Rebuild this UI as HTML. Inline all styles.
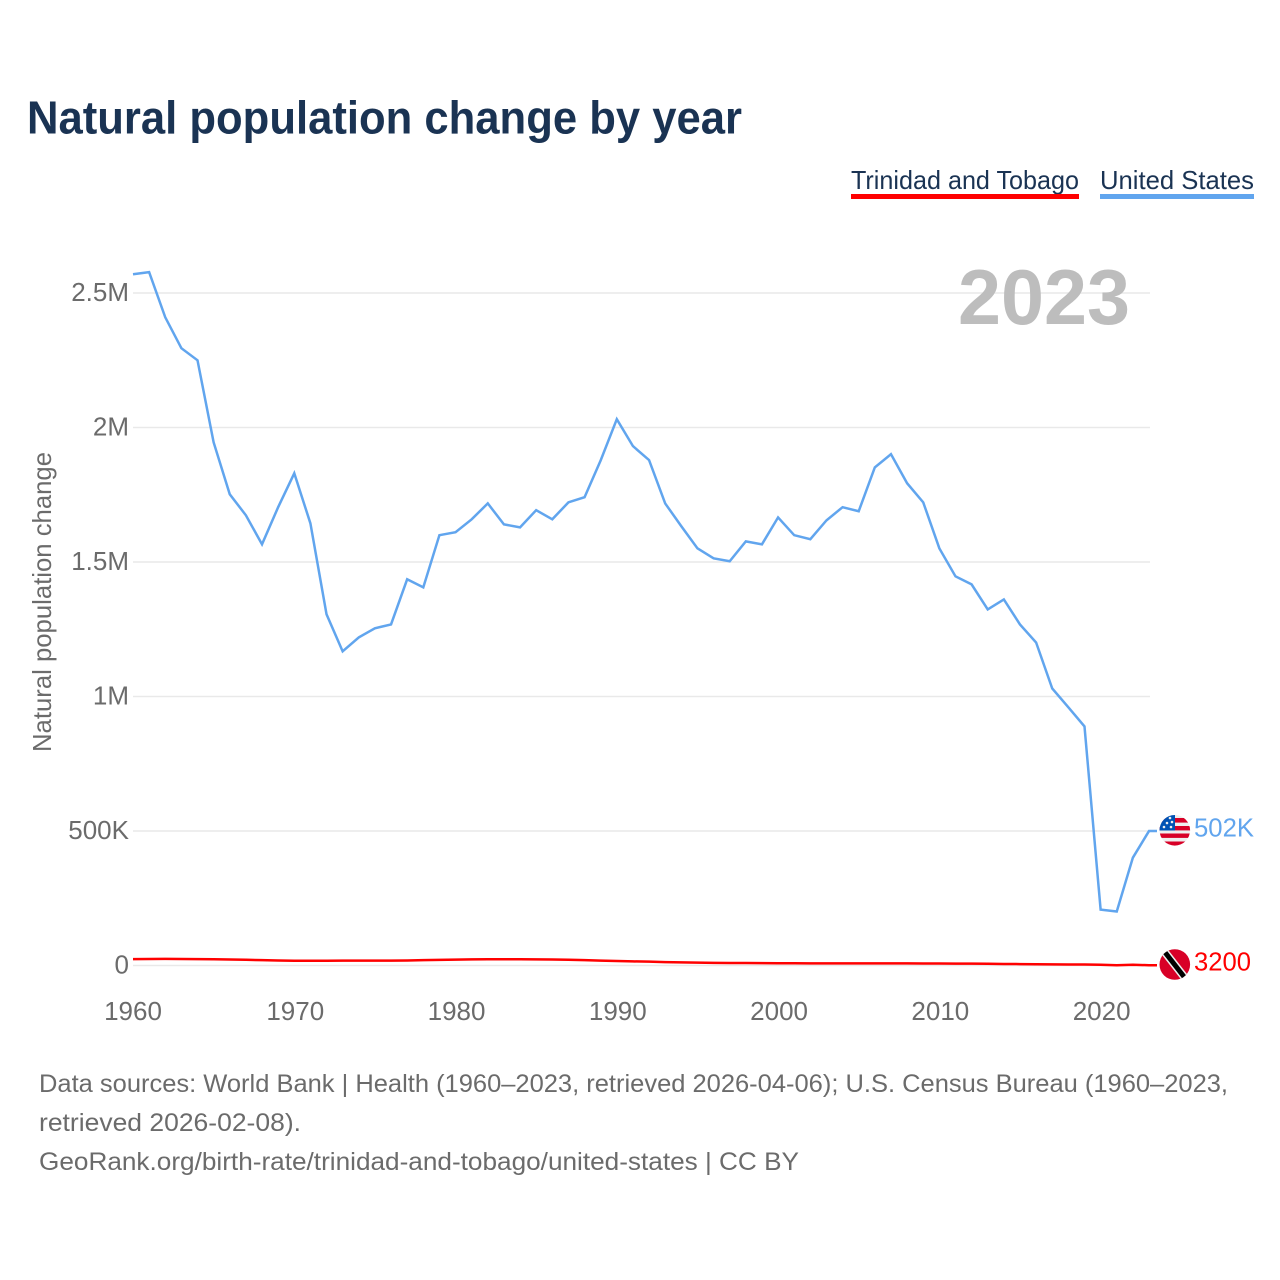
<!DOCTYPE html>
<html lang="en">
<head>
<meta charset="utf-8">
<title>Natural population change by year</title>
<style>
html,body{margin:0;padding:0;background:#fff;}
svg{display:block;font-family:"Liberation Sans",sans-serif;}
</style>
</head>
<body>
<svg id="chart" width="1280" height="1280" viewBox="0 0 1280 1280" xmlns="http://www.w3.org/2000/svg">
  <defs>
    <clipPath id="us-clip"><circle cx="1174.8" cy="830.3" r="15.3"/></clipPath>
    <clipPath id="tt-clip"><circle cx="1174.8" cy="964.5" r="15.3"/></clipPath>
  </defs>
  <rect width="1280" height="1280" fill="#fff"/>
  <text x="27" y="133.5" font-size="46" font-weight="700" fill="#1a3353" textLength="715" lengthAdjust="spacingAndGlyphs">Natural population change by year</text>

  <g>
    <g>
      <text x="851" y="189" font-size="26" fill="#1a3353" textLength="228" lengthAdjust="spacingAndGlyphs">Trinidad and Tobago</text>
      <rect x="851" y="194" width="228" height="5" fill="#ff0000"/>
    </g>
    <g>
      <text x="1100" y="189" font-size="26" fill="#1a3353" textLength="154" lengthAdjust="spacingAndGlyphs">United States</text>
      <rect x="1100" y="194" width="154" height="5" fill="#61a5ee"/>
    </g>
  </g>

  <g id="grid"></g>
  <g id="y-ticks" font-size="26" fill="#6b6b6b" text-anchor="end"></g>
  <g id="x-ticks" font-size="26" fill="#6b6b6b" text-anchor="middle"></g>
  <text transform="translate(51,602) rotate(-90)" font-size="26" fill="#6b6b6b" text-anchor="middle" textLength="300" lengthAdjust="spacingAndGlyphs">Natural population change</text>

  <text x="958" y="324" font-size="78" font-weight="700" fill="#bdbdbd" textLength="172" lengthAdjust="spacingAndGlyphs">2023</text>

  <g id="series" transform="translate(0,0.6)"></g>

  <g clip-path="url(#us-clip)">
    <rect x="1159" y="815" width="32" height="31" fill="#eeeeee"/>
    <rect x="1159" y="818" width="32" height="4.6" fill="#d80027"/>
    <rect x="1159" y="826" width="32" height="4.4" fill="#d80027"/>
    <rect x="1159" y="833.5" width="32" height="4.4" fill="#d80027"/>
    <rect x="1159" y="841.5" width="32" height="4.5" fill="#d80027"/>
    <rect x="1159" y="815" width="16" height="15.5" fill="#0052b4"/>
    <g fill="#eeeeee">
      <circle cx="1164" cy="827" r="1.3"/><circle cx="1171" cy="827" r="1.3"/>
      <circle cx="1167" cy="823" r="1.3"/><circle cx="1172" cy="822" r="1.3"/>
      <circle cx="1170" cy="818" r="1.3"/>
    </g>
  </g>
  <g clip-path="url(#tt-clip)">
    <rect x="1159" y="949" width="32" height="32" fill="#d80027"/>
    <line x1="1164" y1="951" x2="1185" y2="978" stroke="#eeeeee" stroke-width="8"/>
    <line x1="1164" y1="951" x2="1185" y2="978" stroke="#000000" stroke-width="5"/>
  </g>

  <text id="label-us" x="1194" y="836.5" font-size="26" fill="#61a5ee" textLength="60" lengthAdjust="spacingAndGlyphs"></text>
  <text id="label-tt" x="1194" y="970.5" font-size="26" fill="#ff0000" textLength="57" lengthAdjust="spacingAndGlyphs"></text>

  <g font-size="25" fill="#6b6b6b">
    <text x="39" y="1092" textLength="1189" lengthAdjust="spacingAndGlyphs">Data sources: World Bank | Health (1960–2023, retrieved 2026-04-06); U.S. Census Bureau (1960–2023,</text>
    <text x="39" y="1131" textLength="262" lengthAdjust="spacingAndGlyphs">retrieved 2026-02-08).</text>
    <text x="39" y="1170" textLength="760" lengthAdjust="spacingAndGlyphs">GeoRank.org/birth-rate/trinidad-and-tobago/united-states | CC BY</text>
  </g>
</svg>
<script>
const startYear = 1960;
const endYear = 2023;
const yTickValues = [0, 500000, 1000000, 1500000, 2000000, 2500000];
const yTickLabels = ["0", "500K", "1M", "1.5M", "2M", "2.5M"];
const xTickYears = [1960, 1970, 1980, 1990, 2000, 2010, 2020];
const unitedStates = [
  2572000, 2580000, 2412000, 2297000, 2252000, 1947000, 1754000, 1676000, 1568000, 1706000,
  1832000, 1646000, 1308000, 1170000, 1222000, 1256000, 1270000, 1438000, 1408000, 1602000,
  1613000, 1661000, 1720000, 1642000, 1631000, 1695000, 1661000, 1724000, 1743000, 1880000,
  2033000, 1933000, 1881000, 1720000, 1635000, 1553000, 1516000, 1505000, 1579000, 1568000,
  1668000, 1602000, 1587000, 1657000, 1706000, 1691000, 1854000, 1903000, 1795000, 1724000,
  1553000, 1449000, 1419000, 1326000, 1363000, 1270000, 1203000, 1032000, 962000, 891000,
  210000, 203000, 403000, 502000
];
const trinidadAndTobago = [
  26000, 26500, 27000, 26500, 26000, 25500, 24500, 23500, 22000, 21000,
  20000, 20000, 20000, 20500, 20500, 20500, 20500, 21000, 22000, 23000,
  24000, 25000, 25500, 25500, 25500, 25000, 24500, 23500, 22000, 20500,
  19000, 17500, 16500, 15000, 14000, 13000, 12000, 11500, 11500, 11000,
  10500, 10500, 10000, 10000, 10000, 10000, 10000, 10000, 10000, 9500,
  9500, 9000, 9000, 8500, 8000, 7500, 7000, 6500, 6000, 5800,
  5000, 3000, 5000, 3200
];
const endLabelUS = "502K";
const endLabelTT = "3200";

const NS = "http://www.w3.org/2000/svg";
function xScale(year) {
  return 133 + (year - startYear) * (1149 - 133) / (endYear - startYear);
}
function yScale(value) {
  return 965.5 - value * (965.5 - 293) / 2500000;
}
const gridGroup = document.getElementById("grid");
const yTickGroup = document.getElementById("y-ticks");
const xTickGroup = document.getElementById("x-ticks");
const seriesGroup = document.getElementById("series");

yTickValues.forEach(function (v, i) {
  const gl = document.createElementNS(NS, "line");
  gl.setAttribute("x1", 133);
  gl.setAttribute("x2", 1150);
  gl.setAttribute("y1", yScale(v));
  gl.setAttribute("y2", yScale(v));
  gl.setAttribute("stroke", "#e9e9e9");
  gl.setAttribute("stroke-width", 1.4);
  
  
  gridGroup.appendChild(gl);
  const t = document.createElementNS(NS, "text");
  t.setAttribute("x", 129);
  t.setAttribute("y", yScale(v) + 8);
  t.textContent = yTickLabels[i];
  
  
  yTickGroup.appendChild(t);
});

xTickYears.forEach(function (yr) {
  const t = document.createElementNS(NS, "text");
  t.setAttribute("x", xScale(yr) + (yr === startYear ? 0 : 1));
  t.setAttribute("y", 1020);
  t.textContent = String(yr);
  
  
  xTickGroup.appendChild(t);
});

function linePoints(values) {
  return values.map(function (v, i) {
    return xScale(startYear + i).toFixed(2) + "," + yScale(v).toFixed(2);
  }).join(" ");
}
function stubPoints(values) {
  const last = values[values.length - 1];
  return xScale(endYear).toFixed(2) + "," + yScale(last).toFixed(2) + " " + (xScale(endYear) + 8).toFixed(2) + "," + yScale(last).toFixed(2);
}

const usLine = document.createElementNS(NS, "polyline");
usLine.setAttribute("points", linePoints(unitedStates) + " " + stubPoints(unitedStates));
usLine.setAttribute("fill", "none");
usLine.setAttribute("stroke", "#61a5ee");
usLine.setAttribute("stroke-width", 2.5);
usLine.setAttribute("stroke-linejoin", "miter");


seriesGroup.appendChild(usLine);

const ttLine = document.createElementNS(NS, "polyline");
ttLine.setAttribute("points", linePoints(trinidadAndTobago) + " " + stubPoints(trinidadAndTobago));
ttLine.setAttribute("fill", "none");
ttLine.setAttribute("stroke", "#ff0000");
ttLine.setAttribute("stroke-width", 2.5);


seriesGroup.appendChild(ttLine);

document.getElementById("label-us").textContent = endLabelUS;
document.getElementById("label-tt").textContent = endLabelTT;
</script>
</body>
</html>
